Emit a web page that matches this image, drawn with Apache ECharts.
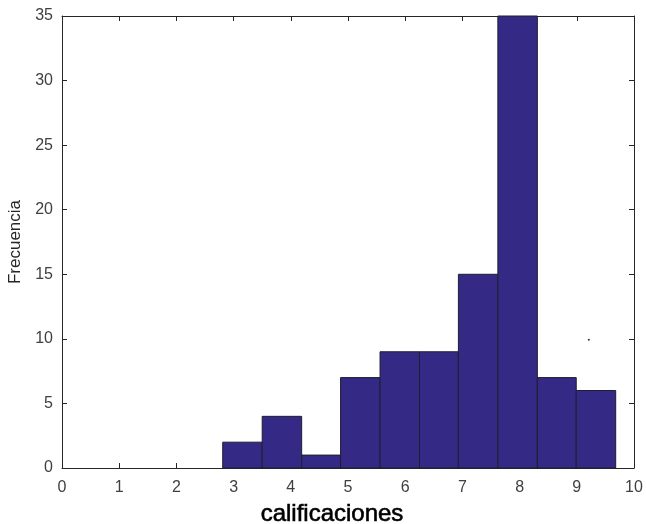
<!DOCTYPE html>
<html>
<head>
<meta charset="utf-8">
<script src="https://cdn.jsdelivr.net/npm/echarts@6/dist/echarts.min.js"></script>
<style>
html,body{margin:0;padding:0;background:#fff;}
#chart{width:646px;height:524px;}
</style>
</head>
<body>
<div id="chart"></div>
<script>
// Histogram bin edges (calificaciones) and counts (Frecuencia)
const binEdges = [2.81, 3.50, 4.19, 4.87, 5.56, 6.25, 6.93, 7.62, 8.31, 8.99, 9.68];
const counts = [2, 4, 1, 7, 9, 9, 15, 35, 7, 6];
const xTicks = [0,1,2,3,4,5,6,7,8,9,10];
const yTicks = [0,5,10,15,20,25,30,35];
const strayPoint = [[9.21, 9.93]];

const barData = counts.map((c, i) => [binEdges[i], binEdges[i+1], c]);

const font = 'Liberation Sans, Arial, sans-serif';
const axisColor = '#262626';

function axisBase(pos) {
  return {
    axisLine: {show: true, onZero: false, lineStyle: {color: axisColor, width: 1}},
    axisTick: {show: true, inside: true, length: 5, lineStyle: {color: axisColor}},
    splitLine: {show: false},
    position: pos
  };
}

const chart = echarts.init(document.getElementById('chart'), null, {renderer: 'canvas'});
chart.setOption({
  backgroundColor: '#ffffff',
  animation: false,
  grid: {left: 62, right: 12, top: 16, bottom: 56, containLabel: false, outerBoundsMode: 'none'},
  xAxis: [Object.assign(axisBase('bottom'), {
    type: 'value', min: xTicks[0], max: xTicks[xTicks.length-1], interval: 1,
    name: 'calificaciones', nameLocation: 'middle', nameGap: 34,
    nameTextStyle: {fontFamily: font, fontSize: 24, fontWeight: 'normal', color: '#000',
      textBorderColor: '#000', textBorderWidth: 0.6, padding: [0, 32, 0, 0]},
    axisLabel: {fontFamily: font, fontSize: 16, color: '#404040', margin: 12}
  }), Object.assign(axisBase('top'), {
    type: 'value', min: xTicks[0], max: xTicks[xTicks.length-1], interval: 1,
    axisLabel: {show: false}
  })],
  yAxis: [Object.assign(axisBase('left'), {
    type: 'value', min: yTicks[0], max: yTicks[yTicks.length-1], interval: 5,
    name: 'Frecuencia', nameLocation: 'middle', nameGap: 37, nameRotate: 90,
    nameTextStyle: {fontFamily: font, fontSize: 17, color: '#262626'},
    axisLabel: {fontFamily: font, fontSize: 16, color: '#404040', margin: 9}
  }), Object.assign(axisBase('right'), {
    type: 'value', min: yTicks[0], max: yTicks[yTicks.length-1], interval: 5,
    axisLabel: {show: false}
  })],
  series: [{
    type: 'custom',
    xAxisIndex: 0, yAxisIndex: 0,
    data: barData,
    encode: {x: [0, 1], y: 2},
    renderItem: function (params, api) {
      const p0 = api.coord([api.value(0), api.value(2)]);
      const p1 = api.coord([api.value(1), 0]);
      return {
        type: 'rect',
        shape: {x: p0[0], y: p0[1], width: p1[0] - p0[0], height: p1[1] - p0[1]},
        style: {fill: '#342a86', stroke: '#1e1e2e', lineWidth: 1}
      };
    }
  }, {
    type: 'scatter',
    xAxisIndex: 0, yAxisIndex: 0,
    data: strayPoint,
    symbolSize: 2,
    itemStyle: {color: '#000'},
    silent: true
  }]
});
</script>
</body>
</html>
